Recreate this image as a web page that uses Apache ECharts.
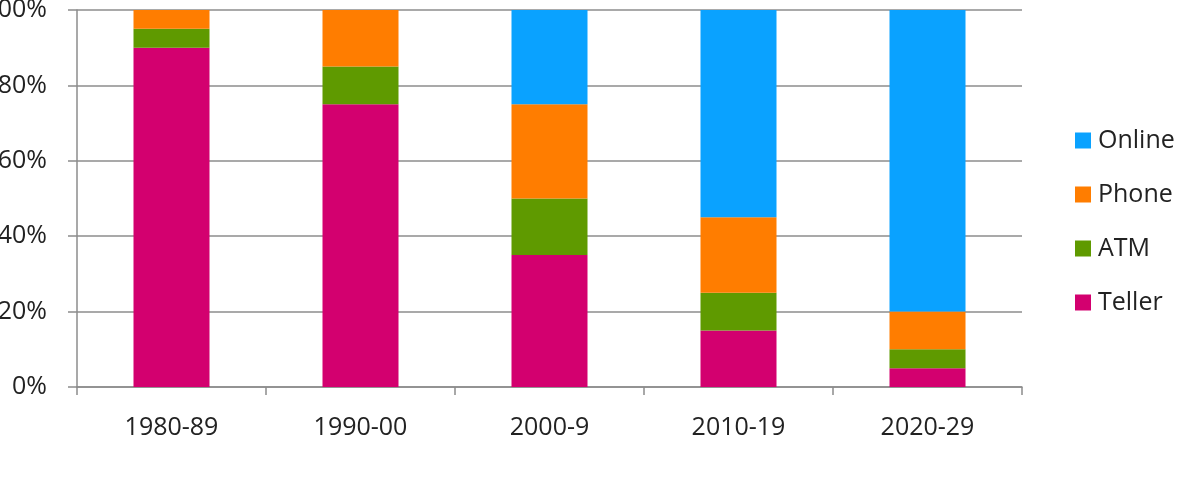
<!DOCTYPE html>
<html>
<head>
<meta charset="utf-8">
<script src="https://cdn.jsdelivr.net/npm/echarts@6/dist/echarts.min.js"></script>
<style>
  html, body { margin: 0; padding: 0; background: #fff; }
  #chart { width: 1185px; height: 483px; }
</style>
</head>
<body>
<div id="chart"></div>
<script>
const categories = ["1980-89", "1990-00", "2000-9", "2010-19", "2020-29"];
const teller = [90, 75, 35, 15, 5];
const atm = [5, 10, 15, 10, 5];
const phone = [5, 15, 25, 20, 10];
const online = [0, 0, 25, 55, 80];

const font = "'Open Sans', sans-serif";
const lineColor = "#8c8c8c";

const chart = echarts.init(document.getElementById("chart"));

const makeSeries = (name, data, color) => ({
  name,
  type: "bar",
  stack: "total",
  data,
  barWidth: 76,
  itemStyle: { color },
});

chart.setOption({
  animation: false,
  textStyle: { fontFamily: font },
  grid: { left: 77, right: 163, top: 10, bottom: 96, outerBoundsMode: "none", containLabel: false },
  legend: {
    orient: "vertical",
    left: 1070,
    top: 123,
    itemWidth: 16,
    itemHeight: 16,
    itemGap: 29,
    icon: "rect",
    data: ["Online", "Phone", "ATM", "Teller"],
    textStyle: { fontFamily: font, fontSize: 25, color: "#222", padding: [0, 0, 0, 2] },
  },
  xAxis: {
    type: "category",
    data: categories,
    axisLine: { lineStyle: { color: lineColor, width: 1.5 } },
    axisTick: { show: true, length: 8, lineStyle: { color: lineColor, width: 1.5 } },
    axisLabel: { fontFamily: font, fontSize: 25, color: "#222", margin: 28 },
  },
  yAxis: {
    type: "value",
    min: 0,
    max: 100,
    interval: 20,
    axisLine: { show: true, lineStyle: { color: lineColor, width: 1.5 } },
    axisTick: { show: true, length: 9, lineStyle: { color: lineColor, width: 1.5 } },
    splitLine: { lineStyle: { color: lineColor, width: 1.5 } },
    axisLabel: {
      fontFamily: font,
      fontSize: 25,
      color: "#222",
      margin: 30,
      formatter: (v) => v + "%",
    },
  },
  series: [
    makeSeries("Teller", teller, "#d3006f"),
    makeSeries("ATM", atm, "#5f9a00"),
    makeSeries("Phone", phone, "#ff7d00"),
    makeSeries("Online", online, "#0aa2ff"),
  ],
});
</script>
</body>
</html>
